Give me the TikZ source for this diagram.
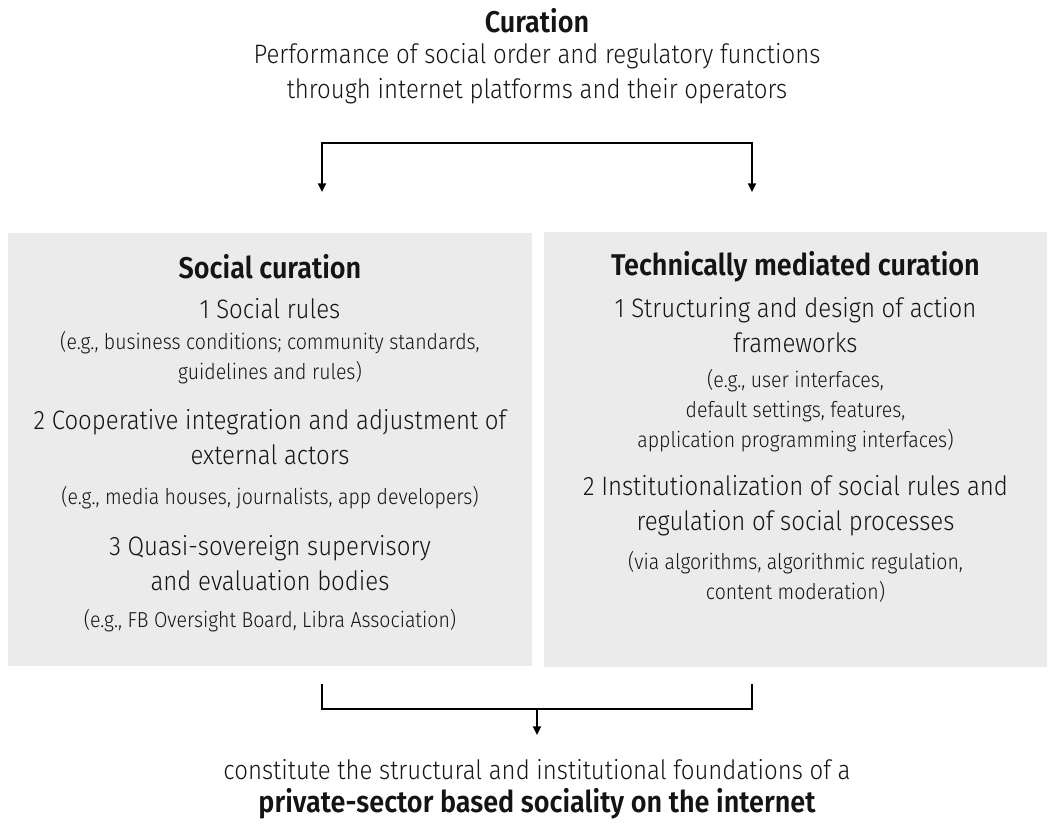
\documentclass[tikz,border=0pt]{standalone}
\usepackage{fontspec}
\setmainfont{Fira Sans}[UprightFont={* Light}, BoldFont={* SemiBold}, FakeStretch=0.9]
\usepackage{xcolor}
\usetikzlibrary{arrows.meta}
\definecolor{cpanel}{RGB}{235,235,235}
\definecolor{cink}{RGB}{20,20,20}

\begin{document}
\begin{tikzpicture}[x=0.75pt, y=-0.75pt,
  panel/.style={fill=cpanel, inner sep=0pt},
  hd/.style={font=\fontsize{22.5}{26.25}\selectfont\bfseries, text=cink, align=center, inner sep=0pt},
  item/.style={font=\fontsize{20}{26.25}\selectfont, text=cink, align=center, inner sep=0pt},
  note/.style={font=\fontsize{16.25}{22.5}\selectfont, text=cink, align=center, inner sep=0pt},
  ln/.style={draw=black, line width=1.4pt, line join=miter},
  tip/.style={ln, -{Triangle[length=6.5pt, width=6pt]}}]
\useasboundingbox (0,0) rectangle (1055,826);

% heading
\node[hd]   (cur)  at (537,21)   {Curation};
\node[item] (perf) at (537,73.5) {Performance of social order and regulatory functions\\
                                  through internet platforms and their operators};

% the two panels
\node[panel, minimum width=393pt, minimum height=324.75pt]   (soc) at (270,449.5) {};
\node[panel, minimum width=377.25pt, minimum height=326.25pt] (tec) at (795.5,449.5) {};

% social curation
\node[hd]   (soct)  at (270,267) {Social curation};
\node[item] (soc1)  at (270,309) {1 Social rules};
\node[note] (soc1n) at (270,357.5) {(e.g., business conditions; community standards,\\guidelines and rules)};
\node[item] (soc2)  at (270,437) {2 Cooperative integration and adjustment of\\external actors};
\node[note] (soc2n) at (270,498) {(e.g., media houses, journalists, app developers)};
\node[item] (soc3)  at (270,563) {3 Quasi-sovereign supervisory\\and evaluation bodies};
\node[note] (soc3n) at (270,621) {(e.g., FB Oversight Board, Libra Association)};

% technically mediated curation
\node[hd]   (tect)  at (795.5,267) {Technically mediated curation};
\node[item] (tec1)  at (795.5,325.5) {1 Structuring and design of action\\frameworks};
\node[note] (tec1n) at (795.5,410.5) {(e.g., user interfaces,\\default settings, features,\\application programming interfaces)};
\node[item] (tec2)  at (795.5,506) {2 Institutionalization of social rules and\\regulation of social processes};
\node[note] (tec2n) at (795.5,577) {(via algorithms, algorithmic regulation,\\content moderation)};

% result
\node[item] (res)  at (537,770) {constitute the structural and institutional foundations of a};
\node[hd]   (resb) at (537,804) {private-sector based sociality on the internet};

% brackets
\coordinate (tl)  at (322,143);
\coordinate (tr)  at (752,143);
\coordinate (tlt) at (322,192);
\coordinate (trt) at (752,192);
\draw[ln, {Triangle[length=6.5pt, width=6pt]}-{Triangle[length=6.5pt, width=6pt]}] (tlt) -- (tl) -- (tr) -- (trt);

\coordinate (bl)  at (322,684);
\coordinate (br)  at (752,684);
\coordinate (bm)  at (537,709);
\coordinate (bmt) at (537,735);
\draw[ln] (bl) -- ++(0,25) -| (br);
\draw[tip] (bm) -- (bmt);
\end{tikzpicture}
\end{document}
